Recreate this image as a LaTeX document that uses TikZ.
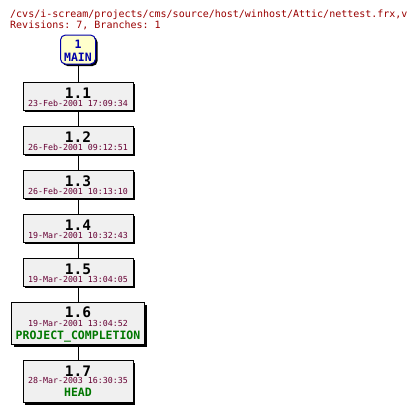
\documentclass[tikz,border=0pt]{standalone}
\usepackage{fontspec}
\setmonofont{DejaVu Sans Mono}
\usetikzlibrary{shadows}
\definecolor{hdr}{HTML}{990000}
\definecolor{datec}{HTML}{660033}
\definecolor{tagc}{HTML}{007700}
\definecolor{mainc}{HTML}{0000AA}
\definecolor{boxfill}{HTML}{F0F0F0}
\definecolor{mainfill}{HTML}{FFFFCC}
\begin{document}
\begin{tikzpicture}[x=1pt,y=-1pt,
  shad/.style={drop shadow={shadow xshift=2pt,shadow yshift=-2pt,fill=black,opacity=1}},
  rev/.style={draw=black,line width=1pt,fill=boxfill,minimum width=110pt,minimum height=28pt,inner sep=0pt,shad},
  revbig/.style={rev,minimum height=42pt},
  mainbox/.style={draw=mainc,line width=1pt,fill=mainfill,rounded corners=5pt,minimum width=35pt,minimum height=29pt,inner sep=0pt,shad},
  hdrtxt/.style={anchor=base west,inner sep=0pt,text=hdr,font=\ttfamily\fontsize{10}{12}\selectfont},
  vtxt/.style={anchor=base,inner sep=0pt,font=\ttfamily\bfseries\fontsize{14.5}{16}\selectfont},
  dtxt/.style={anchor=base,inner sep=0pt,text=datec,font=\ttfamily\fontsize{8.3}{10}\selectfont},
  ttxt/.style={anchor=base,inner sep=0pt,text=tagc,font=\ttfamily\bfseries\fontsize{11.5}{13}\selectfont},
  mtxt/.style={anchor=base,inner sep=0pt,text=mainc,font=\ttfamily\bfseries\fontsize{11.5}{14}\selectfont},
  conn/.style={draw=black,line width=0.9pt}]
\useasboundingbox (0,0) rectangle (416,413);
\node[hdrtxt] (h1) at (10,17) {/cvs/i-scream/projects/cms/source/host/winhost/Attic/nettest.frx,v};
\node[hdrtxt] (h2) at (10,28.3) {Revisions: 7, Branches: 1};
% boxes
\node[mainbox] (m) at (78,49.5) {};
\node[rev] (r1) at (78,96) {};
\node[rev] (r2) at (78,140) {};
\node[rev] (r3) at (78,184) {};
\node[rev] (r4) at (78,228) {};
\node[rev] (r5) at (78,272) {};
\node[revbig,minimum width=133pt] (r6) at (78,323.5) {};
\node[revbig] (r7) at (78,381.5) {};
% connectors
\draw[conn] (m.south) -- (r1.north);
\draw[conn] (r1.south) -- (r2.north);
\draw[conn] (r2.south) -- (r3.north);
\draw[conn] (r3.south) -- (r4.north);
\draw[conn] (r4.south) -- (r5.north);
\draw[conn] (r5.south) -- (r6.north);
\draw[conn] (r6.south) -- (r7.north);
% texts
\node[mtxt] (m1) at (78,48.7) {1};
\node[mtxt] (m2) at (78,61) {MAIN};
\node[vtxt] (v1) at (78,98) {1.1};
\node[dtxt] (d1) at (78,106.3) {23-Feb-2001 17:09:34};
\node[vtxt] (v2) at (78,142) {1.2};
\node[dtxt] (d2) at (78,150.3) {26-Feb-2001 09:12:51};
\node[vtxt] (v3) at (78,186) {1.3};
\node[dtxt] (d3) at (78,194.3) {26-Feb-2001 10:13:10};
\node[vtxt] (v4) at (78,230) {1.4};
\node[dtxt] (d4) at (78,238.3) {19-Mar-2001 10:32:43};
\node[vtxt] (v5) at (78,274) {1.5};
\node[dtxt] (d5) at (78,282.3) {19-Mar-2001 13:04:05};
\node[vtxt] (v6) at (78,317.5) {1.6};
\node[dtxt] (d6) at (78,326) {19-Mar-2001 13:04:52};
\node[ttxt] (t6) at (78,339) {PROJECT\_COMPLETION};
\node[vtxt] (v7) at (78,376) {1.7};
\node[dtxt] (d7) at (78,383.7) {28-Mar-2003 16:30:35};
\node[ttxt] (t7) at (78,396.7) {HEAD};
\end{tikzpicture}
\end{document}
